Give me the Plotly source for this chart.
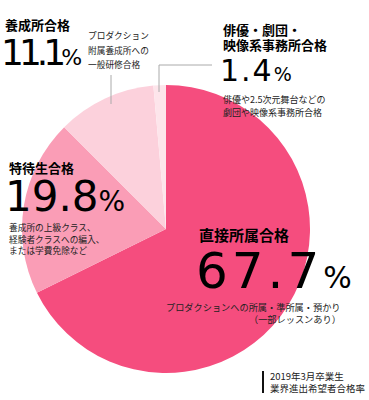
import plotly.graph_objects as go

W, H = 369, 400

# ---- data ----
categories = ["直接所属合格", "特待生合格", "養成所合格", "俳優・劇団・映像系事務所合格"]
values = [67.7, 19.8, 11.1, 1.4]
slice_colors = ["#F54D7E", "#FA9DB6", "#FCD1DC", "#FDE5EB"]
value_labels = ["67.7", "19.8", "11.1", "1.4"]
descriptions = [
    ["プロダクションへの所属・準所属・預かり", "（一部レッスンあり）"],
    ["養成所の上級クラス、", "経験者クラスへの編入、", "または学費免除など"],
    ["プロダクション", "附属養成所への", "一般研修合格"],
    ["俳優や2.5次元舞台などの", "劇団や映像系事務所合格"],
]
footnote = ["2019年3月卒業生", "業界進出希望者合格率"]

JP = "Noto Sans CJK JP"
NUM = "DejaVu Sans"


def px(x):
    return x / W


def py(y):
    return 1 - y / H


cx, cy, r = 166, 229, 144

fig = go.Figure(go.Pie(
    labels=categories, values=values, sort=False, direction="clockwise",
    rotation=0, marker=dict(colors=slice_colors, line=dict(width=0)),
    textinfo="none", hoverinfo="label+percent", showlegend=False,
    domain=dict(x=[px(cx - r), px(cx + r)], y=[py(cy + r), py(cy - r)]),
))

ann = []


def text(x, y, t, size, bold=False, anchor="left", color="#222", font=JP):
    ann.append(dict(
        x=px(x), y=py(y), xref="paper", yref="paper", text=("<b>%s</b>" % t) if bold else t,
        showarrow=False, xanchor=anchor, yanchor="middle",
        font=dict(family=font, size=size, color=color),
    ))


def big(x, y, num, size, pct_size, spacing=0):
    ann.append(dict(
        x=px(x), y=py(y), xref="paper", yref="paper",
        text=("<span style='letter-spacing:%gpx'>%s</span>"
              "<span style='font-size:%dpx;letter-spacing:0px'>%%</span>")
             % (spacing, num, pct_size),
        showarrow=False, xanchor="left", yanchor="middle",
        font=dict(family=NUM, size=size, color="#000"),
    ))


# 養成所合格 (top-left)
text(3, 24.5, categories[2], 13, bold=True, color="#000")
big(-1, 52, value_labels[2], 36, 22, spacing=-5)
for i, line in enumerate(descriptions[2]):
    text(86, [35, 50, 64][i], line, 8.7)

# 俳優・劇団・映像系事務所合格 (top-right)
text(221, 29.5, "俳優・劇団・", 13, bold=True, color="#000")
text(221, 44.5, "映像系事務所合格", 13, bold=True, color="#000")
big(218, 70.5, value_labels[3], 30, 19, spacing=2)
for i, line in enumerate(descriptions[3]):
    text(221, [99, 112.5][i], line, 9)

# 特待生合格 (left)
text(7, 167, categories[1], 13, bold=True, color="#000")
big(2.5, 196.5, value_labels[1], 42, 28)
for i, line in enumerate(descriptions[1]):
    text(7, [227, 239, 251][i], line, 8.7)

# 直接所属合格 (right)
text(197, 234, categories[0], 15, bold=True, color="#000")
big(193.5, 270.5, value_labels[0], 50, 30, spacing=4)
text(343, 307, descriptions[0][0], 9.2, anchor="right")
text(343, 319, descriptions[0][1], 9.2, anchor="right")

# footnote
text(268, 376, footnote[0], 9.5)
text(268, 388, footnote[1], 9.5)

shapes = [
    dict(type="line", xref="paper", yref="paper", x0=px(111), x1=px(111), y0=py(75), y1=py(104),
         line=dict(color="#AAAAAA", width=1)),
    dict(type="line", xref="paper", yref="paper", x0=px(159), x1=px(159), y0=py(65), y1=py(92),
         line=dict(color="#AAAAAA", width=1)),
    dict(type="line", xref="paper", yref="paper", x0=px(159), x1=px(212), y0=py(65), y1=py(65),
         line=dict(color="#AAAAAA", width=1)),
    dict(type="line", xref="paper", yref="paper", x0=px(263), x1=px(263), y0=py(371), y1=py(393),
         line=dict(color="#111111", width=2)),
]

fig.update_layout(
    width=W, height=H, margin=dict(l=0, r=0, t=0, b=0),
    paper_bgcolor="white", plot_bgcolor="white",
    annotations=ann, shapes=shapes,
)

fig.write_html("out.html", config={"displayModeBar": False},
               post_script="document.body.style.margin='0';document.body.style.overflow='hidden';")
